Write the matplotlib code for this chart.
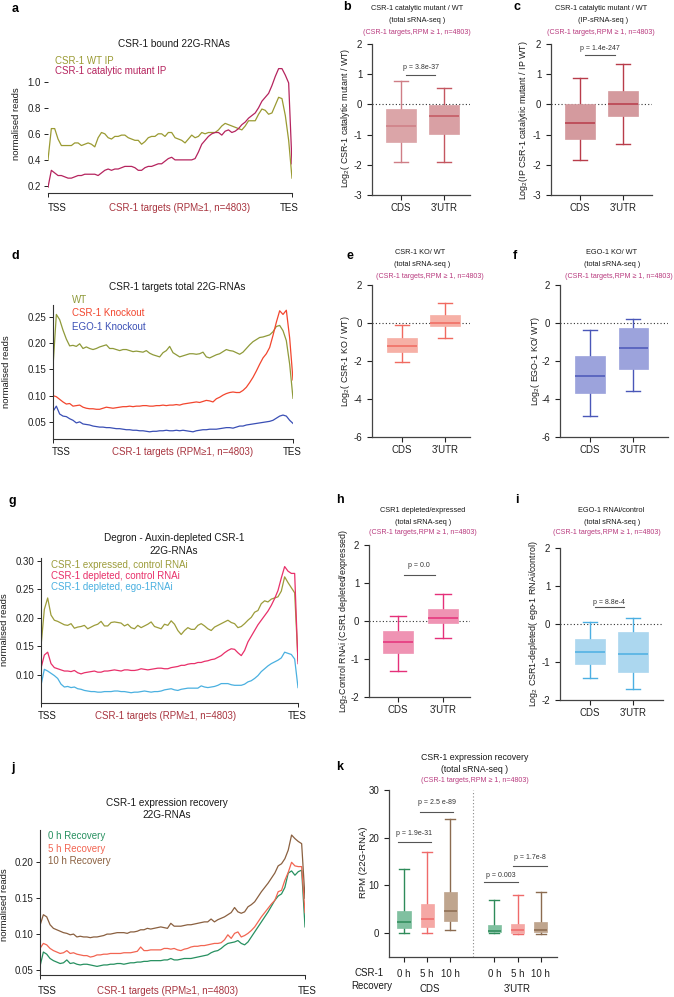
"""CSR-1 22G-RNA metagene profiles and log2 ratio box plots (panels a-k)."""

import matplotlib
import matplotlib.pyplot as plt
import numpy as np
from matplotlib.ticker import FormatStrFormatter

matplotlib.use("Agg")

plt.rcParams["font.family"] = ["Liberation Sans", "DejaVu Sans"]
plt.rcParams["mathtext.fontset"] = "custom"
plt.rcParams["mathtext.rm"] = "Liberation Sans"
plt.rcParams["mathtext.it"] = "Liberation Sans:italic"
plt.rcParams["axes.unicode_minus"] = False

# ---- metagene profiles, equally spaced bins from TSS to TES ----
a_wt_ip = [0.40, 0.64, 0.64, 0.56, 0.51, 0.51, 0.51, 0.51, 0.53, 0.53, 0.51,
           0.52, 0.53, 0.52, 0.50, 0.57, 0.61, 0.60, 0.57, 0.56, 0.58,
           0.58, 0.59, 0.59, 0.57, 0.56, 0.55, 0.55, 0.52, 0.54, 0.57,
           0.58, 0.58, 0.60, 0.60, 0.58, 0.61, 0.61, 0.57, 0.56, 0.55,
           0.53, 0.56, 0.59, 0.57, 0.58, 0.61, 0.60, 0.61, 0.61, 0.61,
           0.63, 0.66, 0.68, 0.67, 0.66, 0.65, 0.64, 0.63, 0.66, 0.70,
           0.70, 0.70, 0.75, 0.79, 0.78, 0.75, 0.76, 0.82, 0.88, 0.87,
           0.74, 0.55, 0.26]
a_mut_ip = [0.19, 0.32, 0.30, 0.28, 0.28, 0.27, 0.26, 0.26, 0.27, 0.28, 0.28,
            0.29, 0.29, 0.29, 0.29, 0.28, 0.30, 0.32, 0.33, 0.32, 0.33,
            0.33, 0.34, 0.35, 0.35, 0.35, 0.34, 0.32, 0.32, 0.34, 0.35,
            0.35, 0.36, 0.37, 0.37, 0.39, 0.41, 0.42, 0.40, 0.40, 0.40,
            0.40, 0.40, 0.40, 0.41, 0.46, 0.52, 0.55, 0.58, 0.60, 0.61,
            0.61, 0.59, 0.62, 0.63, 0.61, 0.62, 0.64, 0.67, 0.69, 0.72,
            0.74, 0.76, 0.80, 0.85, 0.88, 0.91, 0.97, 1.04, 1.10, 1.10,
            1.05, 0.99, 0.37]

d_wt = [0.155, 0.255, 0.245, 0.225, 0.208, 0.195, 0.196, 0.194, 0.199, 0.190, 0.193,
        0.190, 0.188, 0.190, 0.193, 0.195, 0.197, 0.190, 0.190, 0.188, 0.186,
        0.188, 0.188, 0.186, 0.184, 0.185, 0.184, 0.183, 0.186, 0.181, 0.178,
        0.176, 0.174, 0.182, 0.186, 0.194, 0.182, 0.178, 0.174, 0.176, 0.178,
        0.180, 0.180, 0.179, 0.180, 0.183, 0.174, 0.172, 0.175, 0.178, 0.180,
        0.184, 0.188, 0.186, 0.185, 0.182, 0.179, 0.183, 0.190, 0.197, 0.203,
        0.207, 0.211, 0.212, 0.214, 0.216, 0.222, 0.232, 0.234, 0.224, 0.205,
        0.160, 0.095]
d_csr1_ko = [0.100, 0.098, 0.093, 0.088, 0.084, 0.085, 0.080, 0.081, 0.082, 0.078, 0.076,
             0.075, 0.075, 0.074, 0.074, 0.076, 0.078, 0.077, 0.076, 0.077, 0.078,
             0.079, 0.079, 0.080, 0.079, 0.080, 0.080, 0.081, 0.081, 0.080, 0.080,
             0.081, 0.081, 0.082, 0.081, 0.082, 0.082, 0.083, 0.082, 0.084, 0.085,
             0.086, 0.087, 0.088, 0.087, 0.089, 0.091, 0.090, 0.088, 0.094, 0.097,
             0.101, 0.104, 0.106, 0.107, 0.106, 0.106, 0.110, 0.116, 0.125, 0.135,
             0.147, 0.160, 0.172, 0.180, 0.192, 0.215, 0.240, 0.262, 0.255, 0.263,
             0.210, 0.130]
d_ego1_ko = [0.070, 0.080, 0.065, 0.061, 0.060, 0.056, 0.053, 0.048, 0.050, 0.046, 0.045,
             0.044, 0.042, 0.041, 0.040, 0.040, 0.039, 0.039, 0.038, 0.037, 0.037,
             0.036, 0.035, 0.035, 0.034, 0.034, 0.033, 0.033, 0.032, 0.031, 0.032,
             0.032, 0.033, 0.033, 0.034, 0.033, 0.033, 0.034, 0.033, 0.034, 0.033,
             0.032, 0.031, 0.033, 0.034, 0.035, 0.035, 0.036, 0.036, 0.036, 0.037,
             0.038, 0.039, 0.039, 0.038, 0.040, 0.042, 0.042, 0.044, 0.045, 0.046,
             0.047, 0.048, 0.049, 0.050, 0.051, 0.053, 0.057, 0.061, 0.063, 0.061,
             0.053, 0.047]

g_expressed = [0.150, 0.215, 0.235, 0.205, 0.196, 0.194, 0.191, 0.188, 0.187, 0.190,
               0.182, 0.184, 0.185, 0.187, 0.181, 0.184, 0.187, 0.189, 0.194, 0.186,
               0.186, 0.192, 0.193, 0.192, 0.191, 0.186, 0.189, 0.183, 0.181, 0.187,
               0.183, 0.186, 0.189, 0.193, 0.185, 0.183, 0.181, 0.189, 0.187, 0.195,
               0.189, 0.178, 0.171, 0.178, 0.183, 0.180, 0.180, 0.187, 0.190, 0.186,
               0.181, 0.178, 0.184, 0.187, 0.190, 0.193, 0.196, 0.192, 0.190, 0.183,
               0.185, 0.190, 0.196, 0.201, 0.210, 0.213, 0.225, 0.230, 0.228, 0.233,
               0.235, 0.237, 0.247, 0.272, 0.262, 0.253, 0.244, 0.125]
g_depleted = [0.112, 0.135, 0.140, 0.120, 0.113, 0.111, 0.109, 0.107, 0.107, 0.106,
              0.108, 0.104, 0.102, 0.104, 0.105, 0.106, 0.107, 0.105, 0.105, 0.107,
              0.107, 0.108, 0.109, 0.108, 0.107, 0.109, 0.109, 0.108, 0.108, 0.109,
              0.111, 0.110, 0.109, 0.110, 0.111, 0.112, 0.112, 0.111, 0.111, 0.113,
              0.114, 0.115, 0.117, 0.117, 0.119, 0.120, 0.120, 0.122, 0.122, 0.124,
              0.125, 0.127, 0.128, 0.131, 0.134, 0.139, 0.143, 0.146, 0.145, 0.139,
              0.134, 0.143, 0.158, 0.168, 0.178, 0.188, 0.196, 0.204, 0.212, 0.222,
              0.234, 0.248, 0.270, 0.290, 0.282, 0.278, 0.278, 0.120]
g_depleted_ego1 = [0.082, 0.110, 0.107, 0.103, 0.099, 0.094, 0.084, 0.079, 0.080, 0.078,
                   0.079, 0.076, 0.075, 0.073, 0.072, 0.071, 0.071, 0.070, 0.070, 0.071,
                   0.071, 0.071, 0.072, 0.072, 0.071, 0.071, 0.070, 0.069, 0.070, 0.070,
                   0.071, 0.072, 0.071, 0.070, 0.071, 0.071, 0.072, 0.074, 0.075, 0.076,
                   0.074, 0.073, 0.075, 0.076, 0.077, 0.077, 0.077, 0.077, 0.081, 0.079,
                   0.078, 0.079, 0.080, 0.082, 0.085, 0.085, 0.085, 0.083, 0.082, 0.082,
                   0.082, 0.084, 0.088, 0.090, 0.094, 0.099, 0.106, 0.111, 0.116, 0.120,
                   0.123, 0.126, 0.130, 0.140, 0.138, 0.136, 0.128, 0.078]

j_0h = [0.055, 0.075, 0.072, 0.066, 0.063, 0.061, 0.059, 0.060, 0.064, 0.059,
        0.060, 0.058, 0.057, 0.058, 0.058, 0.057, 0.056, 0.055, 0.056, 0.057,
        0.057, 0.058, 0.058, 0.059, 0.059, 0.058, 0.059, 0.060, 0.060, 0.061,
        0.061, 0.062, 0.062, 0.063, 0.063, 0.063, 0.063, 0.064, 0.064, 0.066,
        0.064, 0.064, 0.065, 0.066, 0.066, 0.066, 0.067, 0.068, 0.069, 0.070,
        0.071, 0.074, 0.076, 0.077, 0.080, 0.084, 0.087, 0.088, 0.089, 0.091,
        0.087, 0.085, 0.089, 0.096, 0.103, 0.110, 0.117, 0.124, 0.131, 0.139,
        0.147, 0.153, 0.156, 0.165, 0.185, 0.188, 0.182, 0.187, 0.189, 0.110]
j_5h = [0.080, 0.087, 0.085, 0.080, 0.077, 0.075, 0.073, 0.074, 0.077, 0.073,
        0.074, 0.072, 0.071, 0.070, 0.070, 0.068, 0.069, 0.071, 0.071, 0.072,
        0.072, 0.073, 0.073, 0.073, 0.073, 0.074, 0.074, 0.074, 0.075, 0.076,
        0.082, 0.077, 0.077, 0.078, 0.078, 0.078, 0.078, 0.080, 0.080, 0.079,
        0.080, 0.078, 0.077, 0.079, 0.080, 0.082, 0.083, 0.083, 0.084, 0.084,
        0.085, 0.086, 0.087, 0.087, 0.088, 0.092, 0.099, 0.094, 0.101, 0.103,
        0.096, 0.098, 0.101, 0.105, 0.110, 0.117, 0.124, 0.130, 0.136, 0.142,
        0.147, 0.159, 0.161, 0.175, 0.186, 0.200, 0.195, 0.194, 0.194, 0.130]
j_10h = [0.112, 0.127, 0.124, 0.113, 0.108, 0.106, 0.104, 0.102, 0.101, 0.099,
         0.100, 0.096, 0.097, 0.096, 0.096, 0.095, 0.096, 0.096, 0.097, 0.098,
         0.100, 0.100, 0.101, 0.102, 0.102, 0.102, 0.101, 0.103, 0.103, 0.104,
         0.106, 0.106, 0.108, 0.107, 0.108, 0.109, 0.110, 0.109, 0.108, 0.115,
         0.111, 0.111, 0.111, 0.112, 0.113, 0.113, 0.114, 0.115, 0.116, 0.117,
         0.117, 0.121, 0.117, 0.120, 0.122, 0.124, 0.127, 0.130, 0.137, 0.131,
         0.129, 0.131, 0.138, 0.141, 0.145, 0.152, 0.159, 0.165, 0.171, 0.178,
         0.185, 0.195, 0.198, 0.205, 0.217, 0.238, 0.233, 0.229, 0.226, 0.150]

# ---- box plot summaries: [whisker low, Q1, median, Q3, whisker high] ----
b_cds = [-1.90, -1.23, -0.72, -0.15, 0.78]
b_utr = [-1.90, -0.98, -0.40, -0.03, 0.55]
c_cds = [-1.83, -1.13, -0.63, 0.00, 0.88]
c_utr = [-1.32, -0.40, 0.00, 0.45, 1.33]
e_cds = [-2.05, -1.55, -1.20, -0.80, -0.10]
e_utr = [-0.80, -0.17, 0.01, 0.41, 1.07]
f_cds = [-4.90, -3.67, -2.77, -1.72, -0.36]
f_utr = [-3.57, -2.41, -1.33, -0.25, 0.20]
h_cds = [-1.32, -0.83, -0.55, -0.27, 0.14]
h_utr = [-0.45, -0.05, 0.07, 0.32, 0.72]
i_cds = [-1.43, -1.05, -0.74, -0.40, 0.04]
i_utr = [-1.70, -1.27, -0.80, -0.20, 0.17]
k_cds = [[0.0, 1.0, 2.4, 4.6, 13.5],
         [0.1, 1.3, 3.0, 6.2, 17.0],
         [0.7, 2.6, 4.6, 8.6, 24.0]]
k_utr = [[0.0, 0.2, 0.5, 1.7, 7.0],
         [-0.1, 0.0, 0.6, 2.0, 7.9],
         [-0.1, 0.2, 0.7, 2.4, 8.6]]

regions = ["CDS", "3'UTR"]
recovery_times = ["0 h", "5 h", "10 h"]
subset_note = "(CSR-1 targets,RPM \u2265 1, n=4803)"
targets_label = "CSR-1 targets (RPM\u22651, n=4803)"

# ---- layout helpers (pixel coordinates, origin top-left) ----
W, H = 674, 997
fig = plt.figure(figsize=(W / 100, H / 100), dpi=100)

NOTE_RED = "#b83a7e"
AXIS_RED = "#a8343f"
TXT = "#1a1a1a"


def px_axes(left, top, right, bottom):
    return fig.add_axes([left / W, 1 - bottom / H, (right - left) / W, (bottom - top) / H])


def ftext(x, y, s, size=7, color=TXT, ha="center", **kw):
    fig.text(x / W, 1 - y / H, s, fontsize=size, color=color, ha=ha, va="center", **kw)


def letter(x, y, s):
    ftext(x, y, s, size=9, weight="bold", color="black")


def profile_panel(rect, series, colors, ylim, yticks, fmt, left_spine=True):
    ax = px_axes(*rect)
    for vals, col in zip(series, colors):
        ax.plot(np.linspace(0, 100, len(vals)), vals, color=col, lw=0.9)
    ax.set_xlim(0, 100)
    ax.set_ylim(*ylim)
    ax.set_xticks([0, 100])
    ax.set_xticklabels([])
    ax.set_yticks(yticks)
    ax.yaxis.set_major_formatter(FormatStrFormatter(fmt))
    ax.tick_params(labelsize=7, length=3, width=0.7, colors="#222222", pad=2)
    for s in ["top", "right"]:
        ax.spines[s].set_visible(False)
    ax.spines["left"].set_visible(left_spine)
    for s in ["left", "bottom"]:
        ax.spines[s].set_linewidth(0.8)
        ax.spines[s].set_color("#333333")
    return ax


def box_panel(rect, stats, positions, xlim, fills, lines, ylim, yticks,
              labels, width=0.68, cap=0.5, zero_line=True, label_pad=2.5):
    ax = px_axes(*rect)
    if zero_line:
        ax.axhline(0, color="#333333", lw=0.8, ls=(0, (1, 2)), zorder=0)
    bstats = [dict(whislo=s[0], q1=s[1], med=s[2], q3=s[3], whishi=s[4]) for s in stats]
    art = ax.bxp(bstats, positions=positions, widths=width, capwidths=width * cap,
                 showfliers=False, patch_artist=True, manage_ticks=False)
    for i, patch in enumerate(art["boxes"]):
        patch.set_facecolor(fills[i])
        patch.set_edgecolor(fills[i])
        patch.set_linewidth(0.5)
        patch.set_zorder(3)
    for i in range(len(stats)):
        for ln in art["whiskers"][2 * i:2 * i + 2] + art["caps"][2 * i:2 * i + 2]:
            ln.set_color(lines[i])
            ln.set_linewidth(1.0)
        art["medians"][i].set_color(lines[i])
        art["medians"][i].set_linewidth(1.1)
        art["medians"][i].set_zorder(4)
    ax.set_xlim(*xlim)
    ax.set_ylim(*ylim)
    ax.set_yticks(yticks)
    ax.set_xticks(positions)
    ax.set_xticklabels(labels)
    ax.tick_params(labelsize=7, length=3.5, width=0.8, colors="#222222")
    ax.tick_params(axis="x", pad=label_pad)
    for s in ["top", "right"]:
        ax.spines[s].set_visible(False)
    for s in ["left", "bottom"]:
        ax.spines[s].set_linewidth(0.9)
        ax.spines[s].set_color("#444444")
    return ax


def pbar(ax, x0, x1, y, ty, label):
    ax.plot([x0, x1], [y, y], color="#555555", lw=0.8)
    ax.text((x0 + x1) / 2, ty, label, ha="center", va="center", fontsize=5, color="#333333")


def bottom_labels(y, tss_x, mid_x, tes_x):
    ftext(tss_x, y, "TSS")
    ftext(mid_x, y, targets_label, color=AXIS_RED)
    ftext(tes_x, y, "TES")


# ---- a ----
olive = "#9a9a32"
profile_panel((48, 66, 292, 193), [a_wt_ip, a_mut_ip], [olive, "#b5245e"],
              (0.146, 1.12), [0.2, 0.4, 0.6, 0.8, 1.0], "%.1f", left_spine=False)
letter(15, 9, "a")
ftext(174, 44, "CSR-1 bound 22G-RNAs", size=7.2)
ftext(55, 61, "CSR-1 WT IP", color=olive, ha="left")
ftext(55, 71, "CSR-1 catalytic mutant IP", color="#b5245e", ha="left")
ftext(17, 124, "normalised reads", size=6.8, rotation=90)
bottom_labels(208, 57, 180, 289)

# ---- b, c ----
ax = box_panel((372, 44, 470, 195), [b_cds, b_utr], [1, 2], (0.326, 2.6),
               ["#dba5a8", "#d9a0a4"], ["#cf7e86", "#c45660"], (-3, 2),
               [2, 1, 0, -1, -2, -3], regions)
pbar(ax, 1.12, 1.79, 0.97, 1.22, "p = 3.8e-37")
letter(347, 7, "b")
ftext(417, 8, "CSR-1 catalytic mutant / WT", size=5.3)
ftext(417, 20, "(total sRNA-seq )", size=5.3)
ftext(417, 33, subset_note, size=5.1, color=NOTE_RED)
ftext(345, 118, "Log$_2$( CSR-1 catalytic mutant / WT)", size=6.4, rotation=90)

ax = box_panel((551, 44, 652, 195), [c_cds, c_utr], [1, 2], (0.326, 2.67),
               ["#d49a9e", "#d49a9e"], ["#b83c4a", "#b83c4a"], (-3, 2),
               [2, 1, 0, -1, -2, -3], regions)
pbar(ax, 1.12, 1.81, 1.62, 1.84, "p = 1.4e-247")
letter(517, 7, "c")
ftext(601, 8, "CSR-1 catalytic mutant / WT", size=5.3)
ftext(603, 20, "(IP-sRNA-seq )", size=5.3)
ftext(601, 33, subset_note, size=5.1, color=NOTE_RED)
ftext(523, 120, "Log$_2$(IP CSR-1 catalytic mutant / IP WT)", size=6.4, rotation=90)

# ---- d ----
profile_panel((53, 305, 293, 439), [d_wt, d_csr1_ko, d_ego1_ko],
              ["#8f9a3a", "#f2462e", "#3a4fb5"], (0.0173, 0.273),
              [0.05, 0.10, 0.15, 0.20, 0.25], "%.2f")
letter(15, 256, "d")
ftext(177, 287, "CSR-1 targets total 22G-RNAs", size=7.2)
ftext(72, 300, "WT", color="#8f9a3a", ha="left")
ftext(72, 313, "CSR-1 Knockout", color="#f2462e", ha="left")
ftext(72, 327, "EGO-1 Knockout", color="#3a4fb5", ha="left")
ftext(7, 372, "normalised reads", size=6.8, rotation=90)
bottom_labels(452, 61, 183, 292)

# ---- e, f ----
box_panel((372, 285, 470, 437), [e_cds, e_utr], [1, 2], (0.30, 2.58),
          ["#f6b0a6", "#f6b0a6"], ["#f06a60", "#f06a60"], (-6, 2),
          [2, 0, -2, -4, -6], regions)
letter(350, 256, "e")
ftext(420, 253, "CSR-1 KO/ WT", size=5.3)
ftext(422, 265, "(total sRNA-seq )", size=5.3)
ftext(430, 277, subset_note, size=5.1, color=NOTE_RED)
ftext(345, 361, "Log$_2$( CSR-1 KO / WT)", size=6.4, rotation=90)

box_panel((560, 285, 668, 437), [f_cds, f_utr], [1, 2], (0.30, 2.81),
          ["#9ca3dc", "#9ca3dc"], ["#4a57b8", "#4a57b8"], (-6, 2),
          [2, 0, -2, -4, -6], regions)
letter(515, 256, "f")
ftext(612, 253, "EGO-1 KO/ WT", size=5.3)
ftext(612, 265, "(total sRNA-seq )", size=5.3)
ftext(619, 277, subset_note, size=5.1, color=NOTE_RED)
ftext(535, 361, "Log$_2$( EGO-1 KO/ WT)", size=6.4, rotation=90)

# ---- g ----
profile_panel((41, 558, 298, 703), [g_expressed, g_depleted, g_depleted_ego1],
              ["#9c9c3a", "#e8306a", "#4ab0e0"], (0.051, 0.305),
              [0.10, 0.15, 0.20, 0.25, 0.30], "%.2f")
letter(12, 501, "g")
ftext(174, 538, "Degron - Auxin-depleted CSR-1", size=7.2)
ftext(174, 551, "22G-RNAs", size=7.2)
ftext(51, 565, "CSR-1 expressed, control RNAi", color="#9c9c3a", ha="left")
ftext(51, 576, "CSR-1 depleted, control RNAi", color="#e8306a", ha="left")
ftext(51, 587, "CSR-1 depleted, ego-1RNAi", color="#4ab0e0", ha="left")
ftext(5, 630, "normalised reads", size=6.8, rotation=90)
bottom_labels(716, 47, 166, 297)

# ---- h, i ----
ax = box_panel((369, 545, 470, 697), [h_cds, h_utr], [1, 2], (0.356, 2.6),
               ["#ef93b3", "#ef93b3"], ["#e5307a", "#e5307a"], (-2, 2),
               [2, 1, 0, -1, -2], regions)
pbar(ax, 1.13, 1.82, 1.21, 1.47, "p = 0.0")
letter(340, 500, "h")
ftext(423, 510, "CSR1 depleted/expressed", size=5.3)
ftext(423, 522, "(total sRNA-seq )", size=5.3)
ftext(423, 533, subset_note, size=5.1, color=NOTE_RED)
ftext(343, 621, "Log$_2$Control RNAi (CSR1 depleted/expressed)", size=6.4, rotation=90)

ax = box_panel((560, 548, 663, 700), [i_cds, i_utr], [1, 2], (0.30, 2.70),
               ["#acd7ef", "#acd7ef"], ["#4cafe2", "#4cafe2"], (-2, 2),
               [2, 1, 0, -1, -2], regions)
pbar(ax, 1.11, 1.79, 0.45, 0.57, "p = 8.8e-4")
letter(517, 500, "i")
ftext(611, 510, "EGO-1 RNAi/control", size=5.3)
ftext(612, 522, "(total sRNA-seq )", size=5.3)
ftext(607, 533, subset_note, size=5.1, color=NOTE_RED)
ftext(533, 624, "Log$_2$ CSR1-depleted( ego-1 RNAi/control)", size=6.4, rotation=90)

# ---- j ----
j_colors = ["#279060", "#f26552", "#8a6040"]
profile_panel((40, 830, 305, 975), [j_0h, j_5h, j_10h], j_colors,
              (0.043, 0.245), [0.05, 0.10, 0.15, 0.20], "%.2f")
letter(13, 768, "j")
ftext(167, 803, "CSR-1 expression recovery", size=7.2)
ftext(167, 815, "22G-RNAs", size=7.2)
for k_i, lab in enumerate(["0 h Recovery", "5 h Recovery", "10 h Recovery"]):
    ftext(48, 836 + 12.5 * k_i, lab, color=j_colors[k_i], ha="left")
ftext(5, 905, "normalised reads", size=6.8, rotation=90)
bottom_labels(991, 47, 168, 307)

# ---- k ----
k_fill = ["#80c0a0", "#f5a8a5", "#bfa58e"]
k_line = ["#2e8b5a", "#ef6a6a", "#8b6b50"]
k_pos = [1, 2, 3, 4.9, 5.9, 6.9]
ax = box_panel((389, 790, 557, 957), k_cds + k_utr, k_pos, (0.35, 7.6),
               k_fill * 2, k_line * 2, (-5, 30), [0, 10, 20, 30],
               recovery_times * 2, width=0.57, cap=0.75, zero_line=False, label_pad=5)
ax.axvline(3.97, color="#888888", lw=0.8, ls=(0, (1, 2)), zorder=0)
pbar(ax, 0.74, 2.16, 19.0, 20.8, "p = 1.9e-31")
pbar(ax, 1.69, 3.11, 25.4, 27.3, "p = 2.5 e-89")
pbar(ax, 4.45, 5.91, 10.7, 12.0, "p = 0.003")
pbar(ax, 5.70, 7.16, 14.05, 15.9, "p = 1.7e-8")
letter(340, 767, "k")
ftext(475, 757, "CSR-1 expression recovery", size=6.3)
ftext(475, 769, "(total sRNA-seq )", size=6.3)
ftext(475, 780, subset_note, size=5.1, color=NOTE_RED)
ftext(363, 862, "RPM (22G-RNA)", size=6.8, rotation=90)
ftext(369, 973, "CSR-1")
ftext(372, 986, "Recovery")
ftext(430, 989, "CDS")
ftext(517, 989, "3'UTR")

fig.savefig("out.png", dpi=100)
plt.close(fig)
